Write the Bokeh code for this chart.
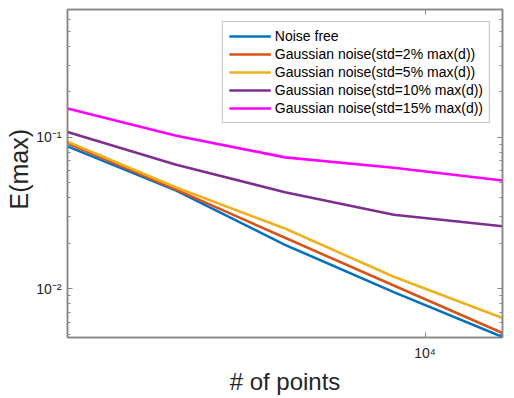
from bokeh.plotting import figure
from bokeh.models import LogAxis, FixedTicker, Legend, LegendItem, Range1d, Title
from bokeh.embed import file_html
from bokeh.resources import INLINE

# ---- data ----
n_points = [1024, 2048, 4096, 8192, 16384]
noise_free = [0.0872, 0.0445, 0.0195, 0.0095, 0.0048]
noise_2 = [0.0913, 0.0452, 0.0217, 0.0105, 0.0051]
noise_5 = [0.0937, 0.0466, 0.0250, 0.0120, 0.0064]
noise_10 = [0.1086, 0.0660, 0.0434, 0.0308, 0.0259]
noise_15 = [0.1550, 0.1026, 0.0738, 0.0630, 0.0519]

series_names = ["Noise free",
                "Gaussian noise(std=2% max(d))",
                "Gaussian noise(std=5% max(d))",
                "Gaussian noise(std=10% max(d))",
                "Gaussian noise(std=15% max(d))"]
series_values = [noise_free, noise_2, noise_5, noise_10, noise_15]
series_colors = ["#0072BD", "#D95319", "#EDB120", "#7E2F8E", "#FF00FF"]

x_ticks = [10000]
x_tick_labels = ["10\u2074"]
y_ticks = [0.01, 0.1]
y_tick_labels = ["10\u207b\u00b2", "10\u207b\u00b9"]
y_minor = [0.005, 0.006, 0.007, 0.008, 0.009,
           0.02, 0.03, 0.04, 0.05, 0.06, 0.07, 0.08, 0.09,
           0.2, 0.3, 0.4, 0.5, 0.6, 0.7]
x_label = "# of points"
y_label = "E(max)"

FONT = "Liberation Sans"
AX = "#868686"
TXT = "#262626"

p = figure(width=514, height=398, x_axis_type="log", y_axis_type="log",
           x_range=Range1d(1024, 16384), y_range=Range1d(0.00476, 0.70),
           output_backend="svg", toolbar_location=None,
           min_border_left=67, min_border_right=12, min_border_top=9, min_border_bottom=61)
p.xgrid.visible = False
p.ygrid.visible = False
p.outline_line_color = AX
p.outline_line_width = 1.5
p.background_fill_color = "white"
p.border_fill_color = "white"

renderers = []
for vals, col in zip(series_values, series_colors):
    r = p.line(n_points, vals, line_color=col, line_width=2.6)
    renderers.append(r)

def style_axis(ax):
    ax.axis_line_color = AX
    ax.axis_line_width = 1.5
    ax.major_tick_line_color = AX
    ax.minor_tick_line_color = AX
    ax.major_tick_in = 5
    ax.major_tick_out = 0
    ax.minor_tick_in = 3
    ax.minor_tick_out = 0
    ax.major_label_text_font = FONT
    ax.major_label_text_color = TXT
    ax.major_label_text_font_size = "14px"
    ax.axis_label_text_font = FONT
    ax.axis_label_text_color = TXT
    ax.axis_label_text_font_style = "normal"

xax = p.xaxis[0]
xax.ticker = FixedTicker(ticks=x_ticks, minor_ticks=[])
xax.major_label_overrides = dict(zip(x_ticks, x_tick_labels))
style_axis(xax)
xax.axis_label = x_label
xax.axis_label_text_font_size = "24px"
xax.major_label_standoff = 7
xax.axis_label_standoff = 4

yax = p.yaxis[0]
yax.ticker = FixedTicker(ticks=y_ticks, minor_ticks=y_minor)
yax.major_label_overrides = dict(zip(y_ticks, y_tick_labels))
style_axis(yax)
yax.major_label_standoff = 6

ytitle = Title(text=y_label, align="left", offset=128, standoff=2,
               text_font=FONT, text_font_size="25px", text_font_style="normal",
               text_color=TXT)
p.add_layout(ytitle, "left")

rax = LogAxis(ticker=FixedTicker(ticks=y_ticks, minor_ticks=y_minor))
style_axis(rax)
rax.major_label_overrides = {t: "" for t in y_ticks}
rax.major_label_standoff = 0
p.add_layout(rax, "right")
tax = LogAxis(ticker=FixedTicker(ticks=x_ticks, minor_ticks=[]))
style_axis(tax)
tax.major_label_overrides = {t: "" for t in x_ticks}
tax.major_label_standoff = 0
p.add_layout(tax, "above")

items = [LegendItem(label=n, renderers=[r]) for n, r in zip(series_names, renderers)]
legend = Legend(items=items, location="top_right",
                label_text_font=FONT, label_text_font_size="14px", label_text_color="#000000",
                glyph_width=42, glyph_height=14, label_height=14, label_standoff=4,
                spacing=2, padding=6, margin=12,
                border_line_color=AX, border_line_width=1.2,
                background_fill_color="white", background_fill_alpha=1.0)
p.add_layout(legend)

open("out.html", "w").write(file_html(p, INLINE))
